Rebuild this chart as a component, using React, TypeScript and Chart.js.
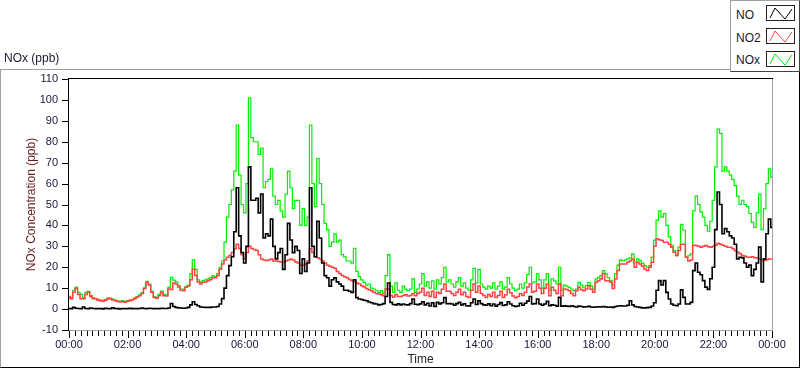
import React, { useEffect, useRef } from "react";
import { Chart, registerables } from "chart.js";

Chart.register(...registerables);

// 5-minute samples from 00:00 to 24:00 (12 values per hour + final point)
const STEP_MINUTES = 5;

const NO = [
  0.3, 0.2, 0.8, 0.4, 0.3, 0.2, 1.0, 0.3, 0.2, 0.5, 0.3, 0.2,
  0.2, 0.3, 0.1, 0.4, 0.2, 0.2, 0.6, 0.3, 0.2, 0.1, 0.3, 0.2,
  0.2, 0.4, 0.2, 0.3, 0.2, 0.3, 0.5, 0.3, 0.2, 0.4, 0.3, 0.2,
  0.3, 0.2, 0.4, 0.3, 0.3, 0.5, 2.7, 1.2, 0.8, 0.6, 0.5, 0.4,
  0.5, 0.8, 2.0, 3.5, 2.2, 1.6, 1.0, 0.9, 0.8, 0.8, 0.8, 1.0,
  1.0, 1.2, 2.4, 5.0, 10, 16, 20.8, 25, 37, 58, 35, 27,
  22, 30, 68, 52, 52, 53, 46, 55, 34, 36, 35, 43,
  30, 24, 27, 29, 19, 26, 41, 33, 27, 30, 28, 17,
  24, 18, 22, 58, 30, 25, 42, 34, 22, 16, 15, 11,
  14, 15, 13, 12, 11, 9, 9, 8.5, 8, 14, 5.5, 4.8,
  4.6, 4.2, 4.0, 3.4, 3.0, 2.6, 2.4, 2.0, 2.2, 2.6, 6.0, 12.5,
  3.2, 2.2, 2.0, 2.5, 2.0, 2.4, 2.1, 2.0, 2.6, 4.8, 2.3, 2.1,
  2.5, 3.5, 2.0, 2.8, 1.5, 3.0, 1.2, 3.2, 2.5, 3.0, 5.5, 2.6,
  2.6, 2.4, 1.8, 2.6, 3.2, 2.0, 2.5, 1.6, 1.5, 3.0, 4.8, 2.2,
  4.0, 2.6, 2.0, 1.8, 2.5, 1.6, 2.4, 1.4, 2.2, 3.1, 1.7, 2.0,
  3.5, 2.4, 1.6, 1.2, 1.5, 2.8, 1.8, 2.8, 3.8, 6.0, 2.4, 2.6,
  4.8, 2.4, 1.8, 2.4, 3.7, 1.6, 2.0, 1.8, 1.4, 5.6, 1.4, 1.6,
  1.4, 1.2, 1.6, 1.2, 1.0, 1.4, 1.2, 1.0, 1.1, 1.3, 1.0, 0.9,
  1.0, 1.1, 1.0, 1.2, 1.0, 0.9, 1.0, 0.8, 1.2, 1.5, 1.6, 1.5,
  1.5, 1.8, 4.0, 2.0, 1.2, 1.0, 0.8, 0.6, 0.6, 0.7, 0.8, 1.5,
  3.0, 9.0, 13.6, 11.5, 13.6, 8.0, 4.8, 2.4, 1.8, 1.6, 2.4, 9.2,
  5.6, 2.4, 2.4, 3.2, 18.4, 22, 17.6, 16.4, 13.6, 10.5, 9.4, 14.5,
  20, 38, 56, 50, 36, 38.5, 37, 35, 34, 31, 24, 24.8,
  24.5, 22, 20, 21, 16, 19, 22, 29.6, 13, 24, 36, 43,
  39,
];

const NO2 = [
  6, 5, 8, 10, 7, 5, 5, 7, 8, 6, 5, 5,
  4.2, 4.0, 3.8, 4.2, 4.8, 5.0, 4.4, 4.0, 3.6, 3.4, 3.6, 3.3,
  3.8, 4.0, 4.4, 5.0, 5.6, 6.4, 7.5, 9.8, 12.8, 11.5, 8, 5.5,
  5.2, 6.4, 8.0, 6.4, 6.2, 9.6, 9.4, 12.5, 12.0, 10.5, 9.0, 8.8,
  10.4, 11, 14, 19, 16, 13, 12, 12.8, 13, 13.6, 14, 15,
  15, 16, 19, 21.5, 23.5, 24.8, 25.6, 27, 28.8, 31, 29, 26,
  24, 27, 30, 29, 28.5, 28, 26, 24, 23.5, 23.2, 23.5, 24,
  23, 23, 22.8, 22.5, 22.4, 23, 23.5, 24, 23.5, 22.5, 22, 21,
  21, 21.5, 23, 29, 27, 25, 24.5, 24, 23, 22, 21, 20.5,
  20, 19.5, 18, 17, 16, 15.5, 15, 14.2, 13.6, 13.2, 12.5, 12,
  11.2, 10.5, 9.8, 9.2, 8.8, 8.0, 7.5, 7.2, 6.8, 6.4, 9.6, 9.5,
  6.5, 5.6, 7, 6, 6, 6.5, 6.8, 6.2, 6.5, 7.5, 6.4, 7.5,
  8, 10, 6.5, 8, 6, 8.5, 5.5, 8, 7.5, 9.5, 12, 8.5,
  8.5, 7.5, 6.5, 8, 9.5, 6.8, 8, 6, 5.5, 9, 12, 8,
  11, 7.5, 6.5, 5.5, 7, 6, 8, 5.5, 6.5, 8.5, 5.5, 6.8,
  9.5, 7.8, 6.2, 5.4, 6, 7.5, 6.5, 8, 10.5, 12, 8, 8.5,
  12, 10, 7.5, 10, 12, 6.4, 10.4, 9, 7.5, 12, 6.4, 9.6,
  9.4, 8.8, 7.5, 6.4, 8.8, 10.4, 9.2, 8.8, 9.6, 11.2, 9.5, 8,
  12.8, 13.6, 14.4, 17, 13.6, 13.5, 12.8, 9.8, 14.4, 18.5, 21.6, 21.5,
  21.5, 22.4, 23, 24, 20, 22.4, 21.6, 20.5, 19.2, 18.4, 20, 22.4,
  30, 33.6, 33.2, 32.8, 32, 32, 31, 29.6, 27.2, 25.6, 28, 31,
  31, 24.8, 23, 23.5, 30.5, 30.4, 30, 29.6, 30, 30.4, 29.8, 29.6,
  30, 30.5, 31.5, 31, 30.5, 30, 29.6, 29.6, 29, 28, 27.2, 26.4,
  25.6, 25.2, 24.8, 24.8, 25, 24.6, 24.4, 24, 23.6, 23.2, 23.6, 24,
  24,
];

const NOX = [
  6, 5.5, 9, 10.5, 8, 7, 5.5, 8, 8.5, 6.5, 5.5, 5,
  4.6, 4.3, 4.2, 4.5, 5.4, 5.3, 4.8, 4.3, 3.9, 3.7, 4.0, 3.5,
  4.0, 4.3, 4.6, 5.4, 6.0, 6.8, 7.8, 10.2, 13.2, 12.0, 8.5, 6.0,
  5.5, 7.0, 8.6, 7.0, 6.8, 10.4, 15.2, 13.8, 13.0, 11.2, 9.6, 9.5,
  10.8, 11.5, 17, 23.5, 19, 14, 12.8, 13.6, 14, 14.4, 15, 16,
  15.5, 17, 20, 23, 32, 44, 50, 57, 66, 88, 64, 50,
  46, 60, 101, 82, 80, 80, 74, 77, 58, 61, 62, 67,
  54, 50, 52, 47, 44, 55, 66, 58, 48, 52, 52, 40,
  48, 40, 44, 88, 60, 49, 72, 60, 50, 41, 38, 30,
  32, 36, 32, 33, 26, 25, 23, 23, 22, 29, 18, 15.5,
  14, 12.8, 11.5, 12, 10, 9.6, 9, 8, 8.8, 7.5, 16, 26,
  11, 8, 12.5, 9, 8, 11, 9.5, 8.8, 9.6, 14.4, 8, 9.6,
  12, 17, 11, 13, 10, 13.5, 9.5, 14, 12, 15, 20, 13,
  14, 12, 10.5, 13, 15, 11, 12.5, 10, 9, 14, 19.5, 12.5,
  19, 12, 10.5, 9.5, 11, 10, 12.5, 9.5, 11, 13, 9.5, 10.5,
  15, 12, 10, 8.8, 9.5, 12, 10, 12.5, 16.5, 20, 12.5, 13,
  17, 14, 10, 14, 17, 9, 14.5, 13.5, 12, 20, 9, 11.5,
  11, 10.4, 9.6, 8.8, 9.6, 12.8, 11.5, 10.2, 11.2, 12.8, 11, 9.6,
  14.4, 15, 16, 18.4, 16.8, 15, 13.6, 11.5, 17, 21, 23.5, 23,
  23.5, 24, 24.5, 26.4, 22.4, 24, 23.2, 22, 20.8, 20, 20.8, 24.8,
  33, 42.5, 47, 44, 45.7, 40, 34.5, 30.5, 28, 25.6, 29.6, 40.5,
  37.7, 24.8, 25.5, 26.4, 47, 54, 50, 46.5, 44, 40, 37.2, 42,
  52, 68, 86, 84, 66, 68, 66, 64, 62, 59, 54, 50,
  52, 50, 49, 45.7, 41.5, 39, 46, 55, 38, 48, 60, 67,
  63,
];

const X_TICK_LABELS = [
  "00:00", "02:00", "04:00", "06:00", "08:00", "10:00", "12:00",
  "14:00", "16:00", "18:00", "20:00", "22:00", "00:00",
];
const Y_MIN = -10;
const Y_MAX = 110;
const Y_STEP = 10;

const SERIES_NAMES = ["NO", "NO2", "NOx"];
const SERIES_COLORS = ["#000000", "#ff4343", "#00ee00"];
const SERIES_WIDTHS = [1.6, 1.5, 1.2];

const FONT = "'Liberation Sans', Arial, sans-serif";
const TICK_COLOR = "#16163a";

const framePlugin = {
  id: "labviewFrame",
  afterDraw(chart: any) {
    const { ctx, chartArea: a, scales } = chart;
    const xs = scales.x;
    const ys = scales.y;
    ctx.save();
    ctx.lineWidth = 1;
    ctx.strokeStyle = "#a0a0a0";
    ctx.beginPath();
    ctx.moveTo(a.left - 1, a.bottom + 0.5);
    ctx.lineTo(a.right + 1, a.bottom + 0.5);
    ctx.moveTo(a.right + 0.5, a.top - 1);
    ctx.lineTo(a.right + 0.5, a.bottom + 1);
    ctx.stroke();
    ctx.strokeStyle = "#000000";
    ctx.beginPath();
    ctx.moveTo(a.left - 1, a.top - 0.5);
    ctx.lineTo(a.right + 1, a.top - 0.5);
    ctx.moveTo(a.left - 0.5, a.top - 1);
    ctx.lineTo(a.left - 0.5, a.bottom + 1);
    // x ticks: minor every 12 minutes, major every 2 hours
    const xMax = xs.max;
    const minorCount = Math.round(xMax / 0.2);
    for (let m = 0; m <= minorCount; m++) {
      const x = Math.round(xs.getPixelForValue(m * 0.2)) + 0.5;
      const len = m % 10 === 0 ? 7 : 5;
      ctx.moveTo(x, a.bottom + 1);
      ctx.lineTo(x, a.bottom + 1 + len);
    }
    for (let v = Y_MIN; v <= Y_MAX; v += Y_STEP) {
      const y = Math.round(ys.getPixelForValue(v)) + 0.5;
      ctx.moveTo(a.left - 7, y);
      ctx.lineTo(a.left - 1, y);
    }
    ctx.stroke();
    ctx.restore();
  },
};

function LegendIcon({ color }: { color: string }) {
  return (
    <svg width="27" height="14" style={{ display: "block" }}>
      <polyline
        points="3,12 8,2 18,13 25,3"
        fill="none"
        stroke={color}
        strokeWidth="1"
      />
    </svg>
  );
}

export default function App() {
  const canvasRef = useRef<HTMLCanvasElement | null>(null);

  useEffect(() => {
    document.body.style.margin = "0";
    const canvas = canvasRef.current;
    if (!canvas) return;
    const series = [NO, NO2, NOX];
    const chart = new Chart(canvas, {
      type: "line",
      data: {
        datasets: series.map((arr, k) => ({
          label: SERIES_NAMES[k],
          data: arr.map((v, i) => ({ x: (i * STEP_MINUTES) / 60, y: v })),
          borderColor: SERIES_COLORS[k],
          backgroundColor: SERIES_COLORS[k],
          borderWidth: SERIES_WIDTHS[k],
          pointRadius: 0,
          tension: 0,
          stepped: "middle",
          fill: false,
        })),
      },
      options: {
        responsive: false,
        animation: false,
        events: [],
        layout: { padding: { top: 79, right: 28, left: 0, bottom: 0 } },
        plugins: {
          legend: { display: false },
          tooltip: { enabled: false },
          title: { display: false },
        },
        scales: {
          x: {
            type: "linear",
            min: 0,
            max: 24,
            afterFit: (s: any) => {
              s.height = 39;
            },
            grid: { display: false, drawTicks: false },
            border: { display: false },
            ticks: {
              stepSize: 2,
              autoSkip: false,
              maxRotation: 0,
              padding: 8,
              color: TICK_COLOR,
              font: { family: FONT, size: 11 },
              callback: (v: any) => X_TICK_LABELS[Math.round(Number(v) / 2)],
            },
            title: {
              display: true,
              text: "Time",
              color: "#262626",
              font: { family: FONT, size: 12 },
              padding: { top: 0, bottom: 2 },
            },
          },
          y: {
            min: Y_MIN,
            max: Y_MAX,
            afterFit: (s: any) => {
              s.width = 69;
            },
            grid: { display: false, drawTicks: false },
            border: { display: false },
            ticks: {
              stepSize: Y_STEP,
              padding: 11,
              color: TICK_COLOR,
              font: { family: FONT, size: 11 },
            },
            title: {
              display: true,
              text: "NOx Concentration (ppb)",
              color: "#651c1c",
              font: { family: FONT, size: 12 },
              padding: { top: 24, bottom: 0 },
            },
          },
        },
      },
      plugins: [framePlugin],
    } as any);
    return () => chart.destroy();
  }, []);

  const legendTops = [7, 29.5, 52];
  const iconTops = [4, 27, 50];

  return (
    <div
      style={{
        position: "relative",
        width: 800,
        height: 369,
        background: "#ffffff",
        fontFamily: FONT,
        overflow: "hidden",
      }}
    >
      <div
        style={{
          position: "absolute",
          left: 0,
          top: 69,
          width: 800,
          height: 299,
          boxSizing: "border-box",
          borderTop: "1px solid #a0a0a0",
          borderLeft: "1px solid #a0a0a0",
          borderRight: "1px solid #000000",
          borderBottom: "1px solid #000000",
        }}
      />
      <canvas
        ref={canvasRef}
        width={800}
        height={369}
        style={{ position: "absolute", left: 0, top: 0, display: "block" }}
      />
      <div
        style={{
          position: "absolute",
          left: 4,
          top: 51,
          fontSize: 12,
          lineHeight: "14px",
          color: "#1a1a30",
          whiteSpace: "nowrap",
        }}
      >
        NOx (ppb)
      </div>
      <div
        style={{
          position: "absolute",
          left: 730,
          top: 0,
          width: 70,
          height: 72,
          boxSizing: "border-box",
          background: "#ffffff",
          borderTop: "1px solid #a0a0a0",
          borderLeft: "1px solid #a0a0a0",
          borderRight: "1px solid #404040",
          borderBottom: "1px solid #404040",
        }}
      >
        {SERIES_NAMES.map((name, k) => (
          <React.Fragment key={name}>
            <div
              style={{
                position: "absolute",
                left: 5,
                top: legendTops[k],
                fontSize: 12,
                lineHeight: "14px",
                color: "#1a1a30",
                whiteSpace: "nowrap",
              }}
            >
              {name}
            </div>
            <div
              style={{
                position: "absolute",
                left: 35,
                top: iconTops[k],
                width: 29,
                height: 16,
                boxSizing: "border-box",
                border: "1px solid #202020",
                background: "#ffffff",
              }}
            >
              <LegendIcon color={SERIES_COLORS[k]} />
            </div>
          </React.Fragment>
        ))}
      </div>
    </div>
  );
}
